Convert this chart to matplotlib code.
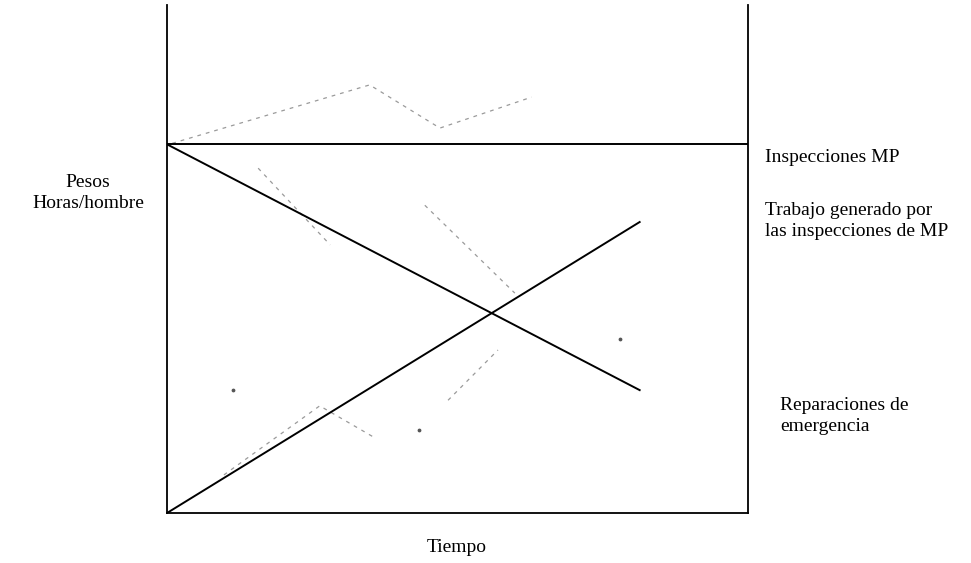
import matplotlib.pyplot as plt

plt.rcParams['font.family'] = ['Liberation Serif', 'DejaVu Serif']

# tiempo (eje x) y pesos / horas-hombre (eje y), escala 0-100
t_inspecciones = [0, 100]
y_inspecciones = [72.6, 72.6]

t_trabajo = [0, 81.4]
y_trabajo = [0, 57.3]

t_reparaciones = [0, 81.4]
y_reparaciones = [72.6, 24.2]

# restos tenues del escaneo (trazos punteados)
faint_traces = [
    ([0.9, 34.9, 47.0, 62.8], [72.8, 84.3, 75.8, 81.9]),
    ([15.7, 28.1], [67.9, 52.8]),
    ([44.4, 59.9], [60.6, 43.3]),
    ([48.4, 57.0], [22.2, 32.1]),
    ([9.8, 26.3, 35.8], [7.5, 21.1, 14.8]),
]
faint_dots_t = [11.4, 78.0, 43.4]
faint_dots_y = [24.2, 34.2, 16.3]

fig = plt.figure(figsize=(9.71, 5.63), dpi=100)
ax = fig.add_axes([0.172, 0.0888, 0.598, 0.902])

for tx, ty in faint_traces:
    ax.plot(tx, ty, color='#9a9a9a', lw=0.9, ls=(0, (3, 4)))
ax.scatter(faint_dots_t, faint_dots_y, s=3, color='#555555')

ax.plot(t_inspecciones, y_inspecciones, color='black', lw=1.4)
ax.plot(t_trabajo, y_trabajo, color='black', lw=1.4)
ax.plot(t_reparaciones, y_reparaciones, color='black', lw=1.4)

ax.set_xlim(0, 100)
ax.set_ylim(0, 100)
ax.set_xticks([])
ax.set_yticks([])
ax.spines['top'].set_visible(False)
for s in ['left', 'right', 'bottom']:
    ax.spines[s].set_linewidth(1.3)

fs = 14
fig.text(765 / 971, 1 - 157 / 563, 'Inspecciones MP', fontsize=fs, va='center')
fig.text(765 / 971, 1 - 221 / 563, 'Trabajo generado por\nlas inspecciones de MP',
         fontsize=fs, va='center', linespacing=1.3)
fig.text(780 / 971, 1 - 416 / 563, 'Reparaciones de\nemergencia',
         fontsize=fs, va='center', linespacing=1.3)
fig.text(88 / 971, 1 - 193 / 563, 'Pesos\nHoras/hombre', fontsize=fs,
         ha='center', va='center', linespacing=1.3)
fig.text(457 / 971, 1 - 548 / 563, 'Tiempo', fontsize=fs, ha='center', va='center')

fig.savefig('out.png', dpi=100)
